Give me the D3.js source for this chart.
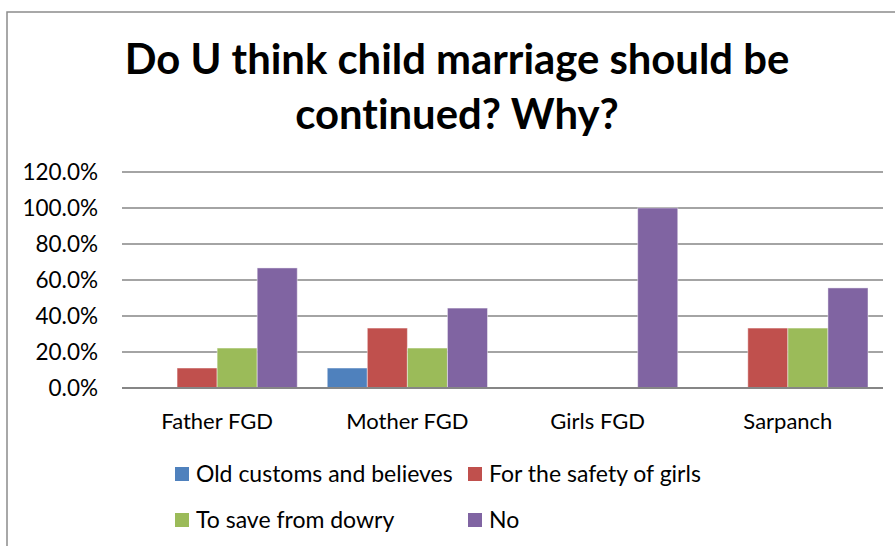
<!DOCTYPE html>
<html>
<head>
<meta charset="utf-8">
<script src="https://cdn.jsdelivr.net/npm/d3@7"></script>
<style>
  html, body { margin: 0; padding: 0; background: #fff; }
  svg { display: block; }
  text { font-family: Lato, "Open Sans", sans-serif; fill: #000; font-variant-ligatures: none; font-feature-settings: "liga" 0, "clig" 0; }
</style>
</head>
<body>
<svg id="chart" width="895" height="546"></svg>
<script>
const titleLines = ["Do U think child marriage should be", "continued? Why?"];
const categories = ["Father FGD", "Mother FGD", "Girls FGD", "Sarpanch"];
const seriesNames = ["Old customs and believes", "For the safety of girls", "To save from dowry", "No"];
const seriesColors = ["#4F81BD", "#C0504D", "#9BBB59", "#8064A2"];
const oldCustoms = [0, 0.111, 0, 0];
const safetyOfGirls = [0.111, 0.333, 0, 0.333];
const saveFromDowry = [0.222, 0.222, 0, 0.333];
const noValues = [0.667, 0.444, 1.0, 0.556];
const yTicks = [0, 0.2, 0.4, 0.6, 0.8, 1.0, 1.2];

const seriesValues = [oldCustoms, safetyOfGirls, saveFromDowry, noValues];

const svg = d3.select("#chart");

// outer chart border
svg.append("rect")
  .attr("x", 7).attr("y", 12)
  .attr("width", 920).attr("height", 560)
  .attr("fill", "none").attr("stroke", "#8c8c8c").attr("stroke-width", 1.5);

// title
svg.selectAll(".title").data(titleLines).enter().append("text")
  .attr("class", "title")
  .attr("x", 457)
  .attr("y", (d, i) => 74 + i * 55)
  .attr("text-anchor", "middle")
  .style("font-weight", "bold")
  .style("font-size", "41.8px")
  .text(d => d);

const plotLeft = 122, plotRight = 883, plotTop = 172, plotBottom = 388;

const x0 = d3.scaleBand().domain(categories).range([plotLeft, plotRight])
  .paddingInner(0.1577).paddingOuter(0.0789);
const x1 = d3.scaleBand().domain(d3.range(seriesNames.length)).range([0, x0.bandwidth()]).padding(0);
const y = d3.scaleLinear().domain([0, 1.2]).range([plotBottom, plotTop]);

// gridlines
const grid = svg.append("g").attr("class", "grid");
grid.selectAll("line").data(yTicks.slice(1)).enter().append("line")
  .attr("x1", plotLeft).attr("x2", plotRight)
  .attr("y1", d => y(d)).attr("y2", d => y(d))
  .attr("stroke", "#868686").attr("stroke-width", 1.5);

// y axis labels
const yAxis = d3.axisLeft(y).tickValues(yTicks).tickFormat(d3.format(".1%")).tickSize(0).tickPadding(24);
const yg = svg.append("g").attr("transform", `translate(${plotLeft},0)`).call(yAxis);
yg.select(".domain").remove();
yg.selectAll("text").style("font-size", "22.5px").style("font-family", "Lato, 'Open Sans', sans-serif").attr("fill", "#000");

// bars
const groups = svg.append("g").selectAll("g").data(categories).enter().append("g")
  .attr("transform", d => `translate(${x0(d)},0)`);
groups.selectAll("rect")
  .data((c, ci) => seriesValues.map((vals, si) => ({ si, v: vals[ci] })))
  .enter().append("rect")
  .filter(d => d.v > 0)
  .attr("x", d => x1(d.si))
  .attr("width", x1.bandwidth())
  .attr("y", d => y(d.v))
  .attr("height", d => y(0) - y(d.v))
  .attr("fill", d => seriesColors[d.si])
  .attr("stroke", "rgba(255,255,255,0.45)")
  .attr("stroke-width", 1);

// x axis line
svg.append("line")
  .attr("x1", plotLeft).attr("x2", plotRight)
  .attr("y1", y(0)).attr("y2", y(0))
  .attr("stroke", "#868686").attr("stroke-width", 2);

// category labels
const xAxis = d3.axisBottom(x0).tickSize(0).tickPadding(25);
const xg = svg.append("g").attr("transform", `translate(0,${plotBottom})`).call(xAxis);
xg.select(".domain").remove();
xg.selectAll("text").style("font-size", "22px").style("font-family", "Lato, 'Open Sans', sans-serif").attr("fill", "#000");

// legend
const legendPos = [
  { x: 175, y: 467 }, { x: 468, y: 467 },
  { x: 175, y: 513 }, { x: 468, y: 513 }
];
const leg = svg.append("g").selectAll("g").data(seriesNames).enter().append("g")
  .attr("transform", (d, i) => `translate(${legendPos[i].x},${legendPos[i].y})`);
leg.append("rect").attr("width", 14).attr("height", 14).attr("fill", (d, i) => seriesColors[i]);
leg.append("text").attr("x", 21).attr("y", 14.5)
  .style("font-size", "23px")
  .text(d => d);
</script>
</body>
</html>
